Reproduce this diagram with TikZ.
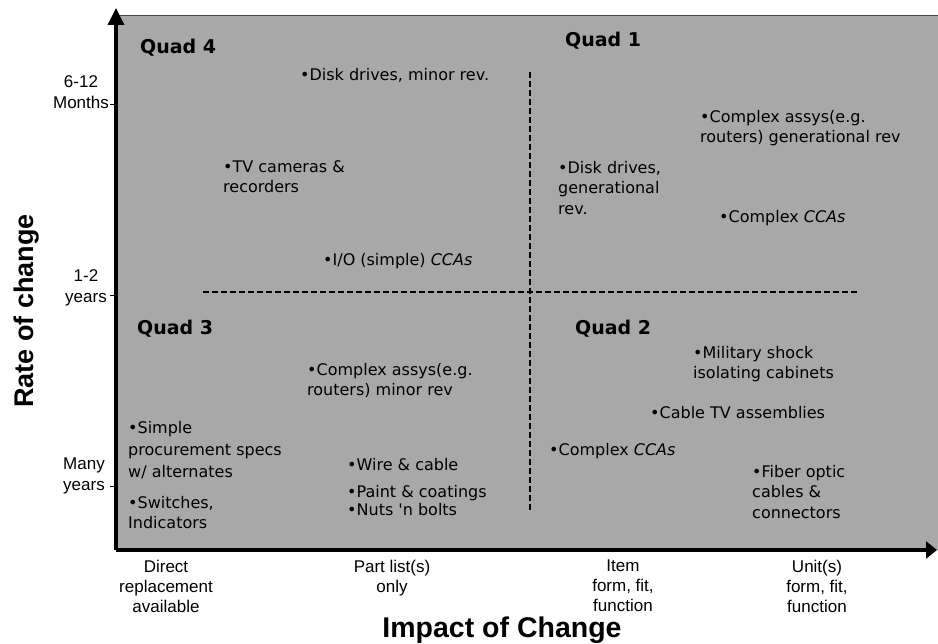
\documentclass[tikz,border=0pt]{standalone}
\usepackage{fontspec}
\setmainfont{Liberation Sans}
\newfontfamily\itemfont{DejaVu Sans}
\usetikzlibrary{arrows.meta}
\definecolor{bggray}{RGB}{168,168,168}
\definecolor{edgegray}{RGB}{70,70,70}
\tikzset{
  itm/.style={anchor=north west,inner sep=0pt,align=left,font=\itemfont\fontsize{16}{20.5}\selectfont},
  quadlbl/.style={anchor=base west,inner sep=0pt,font=\itemfont\bfseries\fontsize{19}{22}\selectfont},
  ticklbl/.style={anchor=north,inner sep=0pt,align=center,font=\fontsize{17}{21}\selectfont},
  xlbl/.style={anchor=north,inner sep=0pt,align=center,font=\fontsize{17}{20}\selectfont},
  axistitle/.style={inner sep=0pt,font=\bfseries\fontsize{27}{30}\selectfont},
  axisline/.style={line width=3.5pt},
  divider/.style={line width=1.1pt,dash pattern=on 6pt off 3pt},
  tickmark/.style={line width=1pt}
}
\begin{document}
\begin{tikzpicture}[x=1pt,y=-1pt]
\useasboundingbox (0,0) rectangle (938,644);
% background field
\fill[bggray] (116,15) rectangle (938,550);
\draw[edgegray,line width=0.8pt] (116,15) -- (938,15);
% axes
\coordinate (O) at (116,550);
\coordinate (ytip) at (116,8);
\coordinate (xtip) at (937,550);
\draw[axisline,-{Triangle[length=17pt,width=16pt]}] (O) -- (ytip);
\draw[axisline,-{Triangle[length=11pt,width=17pt]}] (O) -- (xtip);
% dividers
\coordinate (hl) at (203,292);
\coordinate (hr) at (857,292);
\coordinate (vt) at (530,72);
\coordinate (vb) at (530,510);
\draw[divider] (hl) -- (hr);
\draw[divider] (vt) -- (vb);
% y ticks
\coordinate (t1a) at (110,105); \coordinate (t1b) at (116,105);
\coordinate (t2a) at (110,296); \coordinate (t2b) at (116,296);
\coordinate (t3a) at (110,487); \coordinate (t3b) at (116,487);
\draw[tickmark] (t1a) -- (t1b);
\draw[tickmark] (t2a) -- (t2b);
\draw[tickmark] (t3a) -- (t3b);
\node[ticklbl] (ym) at (81,75) {6-12\\Months};
\node[ticklbl] (yy) at (86,269) {1-2\\years};
\node[ticklbl] (ymy) at (84,458) {Many\\years};
% x labels
\node[xlbl] (xd) at (166,560) {Direct\\replacement\\available};
\node[xlbl] (xp) at (392,560) {Part list(s)\\only};
\node[xlbl] (xi) at (623,560) {Item\\form, fit,\\function};
\node[xlbl] (xu) at (817,560) {Unit(s)\\form, fit,\\function};
% axis titles
\node[axistitle,rotate=90] (ytitle) at (27,311) {Rate of change};
\node[axistitle,anchor=base,font=\bfseries\fontsize{28.5}{30}\selectfont] (xtitle) at (502,637) {Impact of Change};
% quadrant labels
\node[quadlbl] (q4) at (140,54) {Quad 4};
\node[quadlbl] (q1) at (565,47) {Quad 1};
\node[quadlbl] (q3) at (137,335) {Quad 3};
\node[quadlbl] (q2) at (575,335) {Quad 2};
% Quad 4 items
\node[itm] (i1) at (300,68) {•Disk drives, minor rev.};
\node[itm] (i2) at (223,160) {•TV cameras \&\\recorders};
\node[itm] (i3) at (323,253) {•I/O (simple) \textit{CCAs}};
% Quad 1 items
\node[itm] (i4) at (558,161) {•Disk drives,\\generational\\rev.};
\node[itm] (i5) at (700,110) {•Complex assys(e.g.\\routers) generational rev};
\node[itm] (i6) at (719,210) {•Complex \textit{CCAs}};
% Quad 3 items
\node[itm] (i7) at (307,363) {•Complex assys(e.g.\\routers) minor rev};
\node[itm,font=\itemfont\fontsize{16}{22}\selectfont] (i8) at (128,421) {•Simple\\procurement specs\\w/ alternates};
\node[itm] (i9) at (128,496) {•Switches,\\Indicators};
\node[itm] (i10) at (347,458) {•Wire \& cable};
\node[itm] (i11) at (347,485) {•Paint \& coatings};
\node[itm] (i12) at (347,503) {•Nuts 'n bolts};
% Quad 2 items
\node[itm] (i13) at (693,346) {•Military shock\\isolating cabinets};
\node[itm] (i14) at (650,406) {•Cable TV assemblies};
\node[itm] (i15) at (549,443) {•Complex \textit{CCAs}};
\node[itm] (i16) at (752,465) {•Fiber optic\\cables \&\\connectors};
\end{tikzpicture}
\end{document}
